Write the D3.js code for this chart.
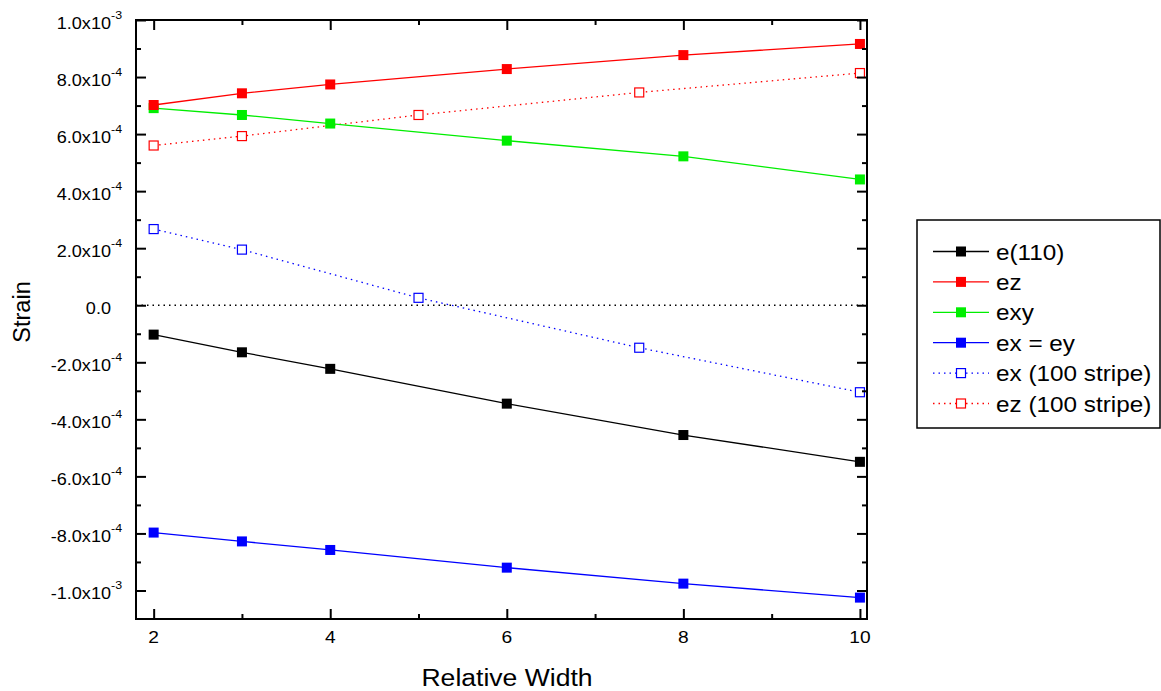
<!DOCTYPE html>
<html>
<head>
<meta charset="utf-8">
<script src="https://cdn.jsdelivr.net/npm/d3@7"></script>
<style>
  html, body { margin: 0; padding: 0; background: #fff; }
  svg { display: block; font-family: "Liberation Sans", Arial, sans-serif; }
</style>
</head>
<body>
<svg id="chart" width="1161" height="691"></svg>
<script>
// ---------- data ----------
const xFull = [2, 3, 4, 6, 8, 10];
const e110 = [-1.03e-4, -1.65e-4, -2.23e-4, -3.45e-4, -4.55e-4, -5.49e-4];
const ez   = [7.02e-4, 7.43e-4, 7.74e-4, 8.28e-4, 8.77e-4, 9.16e-4];
const exy  = [6.91e-4, 6.67e-4, 6.37e-4, 5.77e-4, 5.22e-4, 4.41e-4];
const exey = [-7.97e-4, -8.28e-4, -8.58e-4, -9.20e-4, -9.76e-4, -1.025e-3];
const xStripe  = [2, 3, 5, 7.5, 10];
const exStripe = [2.67e-4, 1.95e-4, 0.26e-4, -1.49e-4, -3.05e-4];
const ezStripe = [5.60e-4, 5.93e-4, 6.67e-4, 7.46e-4, 8.14e-4];

const seriesNames = ["e(110)", "ez", "exy", "ex = ey", "ex (100 stripe)", "ez (100 stripe)"];

const xMajorTicks = [2, 4, 6, 8, 10];
const xMinorTicks = [3, 5, 7, 9];
const xTickLabels = ["2", "4", "6", "8", "10"];
const yMajorTicks = [1.0e-3, 8e-4, 6e-4, 4e-4, 2e-4, 0, -2e-4, -4e-4, -6e-4, -8e-4, -1.0e-3];
const yMinorTicks = [9e-4, 7e-4, 5e-4, 3e-4, 1e-4, -1e-4, -3e-4, -5e-4, -7e-4, -9e-4];
const yTickMantissa = ["1.0x10", "8.0x10", "6.0x10", "4.0x10", "2.0x10", "0.0", "-2.0x10", "-4.0x10", "-6.0x10", "-8.0x10", "-1.0x10"];
const yTickExponent = ["-3", "-4", "-4", "-4", "-4", "", "-4", "-4", "-4", "-4", "-3"];

// ---------- layout ----------
const svg = d3.select("#chart");
const L = 136, R = 867, T = 20, B = 619;
const SX = 1.13; // horizontal text stretch

const x = d3.scaleLinear().domain([1.8, 10.08]).range([L, R]);
const y = d3.scaleLinear().domain([-1.1e-3, 1.0e-3]).range([B, T]);

const series = [
  { name: seriesNames[0], xs: xFull, ys: e110, color: "#000000", open: false, dotted: false },
  { name: seriesNames[1], xs: xFull, ys: ez, color: "#ff0000", open: false, dotted: false },
  { name: seriesNames[2], xs: xFull, ys: exy, color: "#00ee00", open: false, dotted: false },
  { name: seriesNames[3], xs: xFull, ys: exey, color: "#0000ff", open: false, dotted: false },
  { name: seriesNames[4], xs: xStripe, ys: exStripe, color: "#0000ff", open: true, dotted: true },
  { name: seriesNames[5], xs: xStripe, ys: ezStripe, color: "#ff0000", open: true, dotted: true }
];

function sText(parent, px, py, str, size, anchor) {
  const g = parent.append("g").attr("transform", `translate(${px},${py}) scale(${SX},1)`);
  return g.append("text").attr("x", 0).attr("y", 0)
    .attr("font-size", size).attr("text-anchor", anchor || "start")
    .attr("fill", "#000").text(str);
}

// zero line
svg.append("line")
  .attr("x1", L).attr("x2", R).attr("y1", y(0)).attr("y2", y(0))
  .attr("stroke", "#000").attr("stroke-width", 1.3).attr("stroke-dasharray", "1.5,4");

// series lines + markers (drawn in reverse so earlier series on top)
const line = d3.line().x(d => x(d[0])).y(d => y(d[1]));
const MS = 10;
function drawMarker(g, cx, cy, s) {
  if (s.open) {
    g.append("rect").attr("x", cx - 4.5).attr("y", cy - 4.5).attr("width", 9).attr("height", 9)
      .attr("fill", "#fff").attr("stroke", s.color).attr("stroke-width", 1.2);
  } else {
    g.append("rect").attr("x", cx - MS / 2).attr("y", cy - MS / 2).attr("width", MS).attr("height", MS)
      .attr("fill", s.color);
  }
}
series.slice().reverse().forEach(s => {
  const pts = s.xs.map((v, i) => [v, s.ys[i]]);
  const g = svg.append("g");
  g.append("path").attr("d", line(pts)).attr("fill", "none")
    .attr("stroke", s.color).attr("stroke-width", 1.3)
    .attr("stroke-dasharray", s.dotted ? "1.5,4" : null);
  pts.forEach(p => drawMarker(g, x(p[0]), y(p[1]), s));
});

// frame
svg.append("rect").attr("x", L).attr("y", T).attr("width", R - L).attr("height", B - T)
  .attr("fill", "none").attr("stroke", "#000").attr("stroke-width", 2);

// ticks via d3 axes (inward)
function tickAxis(axisFn, scale, vals, size, transform) {
  const a = axisFn(scale).tickValues(vals).tickSize(size).tickFormat("");
  const g = svg.append("g").attr("transform", transform).call(a);
  g.select(".domain").remove();
  g.selectAll(".tick line").attr("stroke", "#000").attr("stroke-width", 2);
}
tickAxis(d3.axisBottom, x, xMajorTicks, -10, `translate(0,${B})`);
tickAxis(d3.axisBottom, x, xMinorTicks, -5, `translate(0,${B})`);
tickAxis(d3.axisTop, x, xMajorTicks, -10, `translate(0,${T})`);
tickAxis(d3.axisTop, x, xMinorTicks, -5, `translate(0,${T})`);
tickAxis(d3.axisLeft, y, yMajorTicks, -10, `translate(${L},0)`);
tickAxis(d3.axisLeft, y, yMinorTicks, -5, `translate(${L},0)`);
tickAxis(d3.axisRight, y, yMajorTicks, -10, `translate(${R},0)`);
tickAxis(d3.axisRight, y, yMinorTicks, -5, `translate(${R},0)`);

// x tick labels
xMajorTicks.forEach((v, i) => sText(svg, x(v), 643, xTickLabels[i], 17, "middle"));

// y tick labels with superscripts
yMajorTicks.forEach((v, i) => {
  const yy = y(v) + 9;
  sText(svg, 111, yy, yTickMantissa[i], 16, "end");
  if (yTickExponent[i]) sText(svg, 111, yy - 10, yTickExponent[i], 11, "start");
});

// axis titles
sText(svg, 507, 686, "Relative Width", 23.5, "middle");
svg.append("text").attr("transform", "translate(30,312) rotate(-90)")
  .attr("text-anchor", "middle").attr("font-size", 23.5).attr("fill", "#000").text("Strain");

// legend
const lg = svg.append("g");
lg.append("rect").attr("x", 917).attr("y", 220).attr("width", 243).attr("height", 208)
  .attr("fill", "#fff").attr("stroke", "#000").attr("stroke-width", 1.5);
series.forEach((s, i) => {
  const ry = 251.5 + i * 30.4;
  lg.append("line").attr("x1", 933).attr("x2", 989).attr("y1", ry).attr("y2", ry)
    .attr("stroke", s.color).attr("stroke-width", 1.3)
    .attr("stroke-dasharray", s.dotted ? "1.5,4" : null);
  drawMarker(lg, 961, ry, s);
  sText(lg, 996, ry + 8, s.name, 21.5, "start");
});
</script>
</body>
</html>
